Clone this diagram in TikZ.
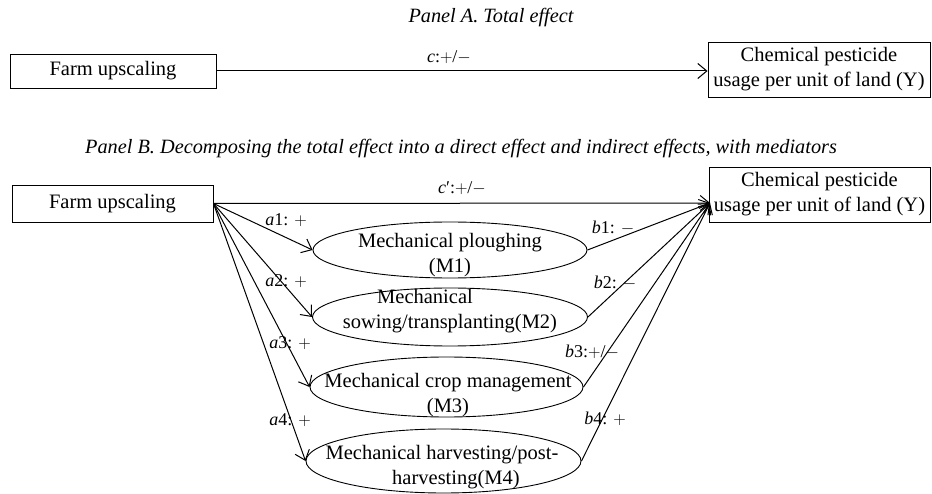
\documentclass[tikz,border=0pt]{standalone}
\usepackage{fontspec}
\setmainfont{Liberation Serif}
\usetikzlibrary{arrows.meta,shapes.geometric}
\newcommand{\coefvar}[2]{\textit{#1}#2}
\begin{document}
\begin{tikzpicture}[x=1pt,y=-1pt,
  every node/.style={font=\fontsize{20.5}{25}\selectfont},
  varbox/.style={draw, line width=0.9pt, inner sep=0pt, align=center},
  med/.style={draw, ellipse, line width=0.9pt, inner sep=0pt},
  medtext/.style={align=center, inner sep=0pt, font=\fontsize{20.5}{24.5}\selectfont},
  link/.style={line width=1pt, -{Straight Barb[length=9pt,width=15pt,line width=1pt]}},
  coef/.style={font=\fontsize{18}{20}\selectfont, inner sep=0pt},
  paneltitle/.style={font=\fontsize{20.3}{22}\selectfont\itshape, inner sep=0pt}]
\useasboundingbox (0,0) rectangle (932,494);

% ---------- Panel A: total effect ----------
\node[paneltitle] (ta) at (491,18) {Panel A. Total effect};
\node[varbox, minimum width=206pt, minimum height=34pt] (fa) at (113,71) {Farm upscaling};
\node[varbox, minimum width=222pt, minimum height=55pt] (ya) at (819,69.5)
  {Chemical pesticide\\usage per unit of land (Y)};
\draw[link] (fa.east) -- (fa.east -| ya.west);
\node[coef] (lc) at (449,57) {\coefvar{c}{}:$+$/$-$};

% ---------- Panel B: direct and indirect effects ----------
\node[paneltitle] (tb) at (461,149) {Panel B. Decomposing the total effect into a direct effect and indirect effects, with mediators};
\node[varbox, minimum width=201pt, minimum height=37pt] (fb) at (112.5,203.5) {Farm upscaling};
\node[varbox, minimum width=221pt, minimum height=55pt] (yb) at (819.5,194.5)
  {Chemical pesticide\\usage per unit of land (Y)};
\coordinate (yin) at (710,203);

% mediators
\node[med, minimum width=274pt, minimum height=56pt] (m1) at (450,250) {};
\node[med, minimum width=275pt, minimum height=58pt] (m2) at (450,317) {};
\node[med, minimum width=273pt, minimum height=60pt] (m3) at (446.5,387) {};
\node[med, minimum width=275pt, minimum height=64pt] (m4) at (443.5,461) {};

\node[medtext] (t1) at (450,255) {Mechanical ploughing\\(M1)};
\node[medtext] (t2) at (450,311) {Mechanical\hspace*{50pt}\\sowing/transplanting(M2)};
\node[medtext] (t3) at (448,395) {Mechanical crop management\\(M3)};
\node[medtext] (t4) at (449,467) {Mechanical harvesting/post-\hspace*{14pt}\\\hspace*{14pt}harvesting(M4)};

% direct effect
\draw[link] (fb.east) -- (yin);
\node[coef] (lcp) at (462,188) {\coefvar{c}{′}:$+$/$-$};

% paths into the mediators
\draw[link] (fb.east) -- (m1.west);
\draw[link] (fb.east) -- (m2.west);
\draw[link] (fb.east) -- (m3.west);
\draw[link] (fb.east) -- (m4.west);

% paths out of the mediators
\draw[link] (m1.east) -- (yin);
\draw[link] (m2.east) -- (yin);
\draw[link] (m3.east) -- (yin);
\draw[link] (m4.east) -- (yin);

% coefficient labels
\node[coef] (la1) at (286,220) {\coefvar{a}{1}: $+$};
\node[coef] (la2) at (286,281) {\coefvar{a}{2}: $+$};
\node[coef] (la3) at (290,343) {\coefvar{a}{3}: $+$};
\node[coef] (la4) at (290,420) {\coefvar{a}{4}: $+$};
\node[coef] (lb1) at (613,228) {\coefvar{b}{1}: $-$};
\node[coef] (lb2) at (615,283) {\coefvar{b}{2}: $-$};
\node[coef] (lb3) at (592,352) {\coefvar{b}{3}:$+$/$-$};
\node[coef] (lb4) at (605,419) {\coefvar{b}{4}: $+$};
\end{tikzpicture}
\end{document}
